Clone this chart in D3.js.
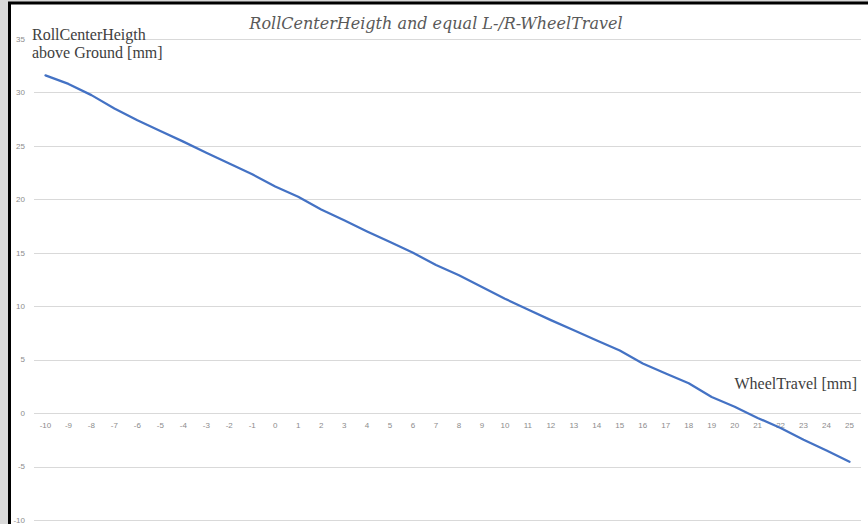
<!DOCTYPE html>
<html>
<head>
<meta charset="utf-8">
<script src="https://cdn.jsdelivr.net/npm/d3@7"></script>
<style>
  html, body { margin: 0; padding: 0; background: #d9d9d9; }
  svg { display: block; }
</style>
</head>
<body>
<script>
// Wheel travel categories [mm]
const wheelTravel = d3.range(-10, 26);
// Roll center height above ground [mm]
const rollCenterHeight = [
  31.6, 30.8, 29.75, 28.5, 27.4, 26.4, 25.4, 24.35, 23.35, 22.35,
  21.2, 20.25, 19.05, 18.05, 17.0, 16.0, 15.0, 13.85, 12.9, 11.8,
  10.7, 9.7, 8.7, 7.75, 6.8, 5.85, 4.65, 3.7, 2.8, 1.5,
  0.6, -0.45, -1.4, -2.5, -3.5, -4.55
];
const yTicks = [-10, -5, 0, 5, 10, 15, 20, 25, 30, 35];

const title = "RollCenterHeigth and equal L-/R-WheelTravel";
const yTitle = ["RollCenterHeigth", "above Ground [mm]"];
const xTitle = "WheelTravel [mm]";

const width = 868, height = 524;

const svg = d3.select("body").append("svg")
  .attr("width", width)
  .attr("height", height);

// chart frame (cropped: only left and top border visible)
svg.append("rect")
  .attr("x", 0).attr("y", 0).attr("width", width).attr("height", height)
  .attr("fill", "#d9d9d9");
svg.append("rect")
  .attr("x", 9.5).attr("y", 3).attr("width", width).attr("height", height)
  .attr("fill", "#fff")
  .attr("stroke", "#000")
  .attr("stroke-width", 3);

const x = d3.scalePoint()
  .domain(wheelTravel)
  .range([34, 861])
  .padding(0.5);

const y = d3.scaleLinear()
  .domain([-10, 35])
  .range([520, 39]);

// gridlines
svg.append("g")
  .selectAll("line")
  .data(yTicks)
  .join("line")
  .attr("x1", 34)
  .attr("x2", 861)
  .attr("y1", d => Math.round(y(d)) + 0.5)
  .attr("y2", d => Math.round(y(d)) + 0.5)
  .attr("stroke", "#d9d9d9")
  .attr("stroke-width", 1);

// y tick labels
svg.append("g")
  .selectAll("text")
  .data(yTicks)
  .join("text")
  .attr("x", 25)
  .attr("y", d => y(d))
  .attr("dy", "0.35em")
  .attr("text-anchor", "end")
  .attr("font-family", "Liberation Sans, Arial, sans-serif")
  .attr("font-size", 8)
  .attr("fill", "#8c8c8c")
  .text(d => d);

// x tick labels, next to the zero line
svg.append("g")
  .selectAll("text")
  .data(wheelTravel)
  .join("text")
  .attr("x", d => x(d))
  .attr("y", y(0) + 15)
  .attr("text-anchor", "middle")
  .attr("font-family", "Liberation Sans, Arial, sans-serif")
  .attr("font-size", 8)
  .attr("fill", "#8c8c8c")
  .text(d => d);

// the series
const line = d3.line()
  .x((d, i) => x(wheelTravel[i]))
  .y(d => y(d));

svg.append("path")
  .datum(rollCenterHeight)
  .attr("d", line)
  .attr("fill", "none")
  .attr("stroke", "#4472c4")
  .attr("stroke-width", 2.25)
  .attr("stroke-linejoin", "round")
  .attr("stroke-linecap", "round");

// title
svg.append("text")
  .attr("x", 436)
  .attr("y", 29)
  .attr("text-anchor", "middle")
  .attr("font-family", "DejaVu Serif, serif")
  .attr("font-style", "italic")
  .attr("font-size", 16)
  .attr("fill", "#595959")
  .text(title);

// axis titles
svg.append("text")
  .attr("font-family", "Liberation Serif, serif")
  .attr("font-size", 16)
  .attr("fill", "#404040")
  .selectAll("tspan")
  .data(yTitle)
  .join("tspan")
  .attr("x", 32)
  .attr("y", (d, i) => 40 + i * 18)
  .text(d => d);

svg.append("text")
  .attr("x", 857)
  .attr("y", 389)
  .attr("text-anchor", "end")
  .attr("font-family", "Liberation Serif, serif")
  .attr("font-size", 16)
  .attr("fill", "#404040")
  .text(xTitle);
</script>
</body>
</html>
